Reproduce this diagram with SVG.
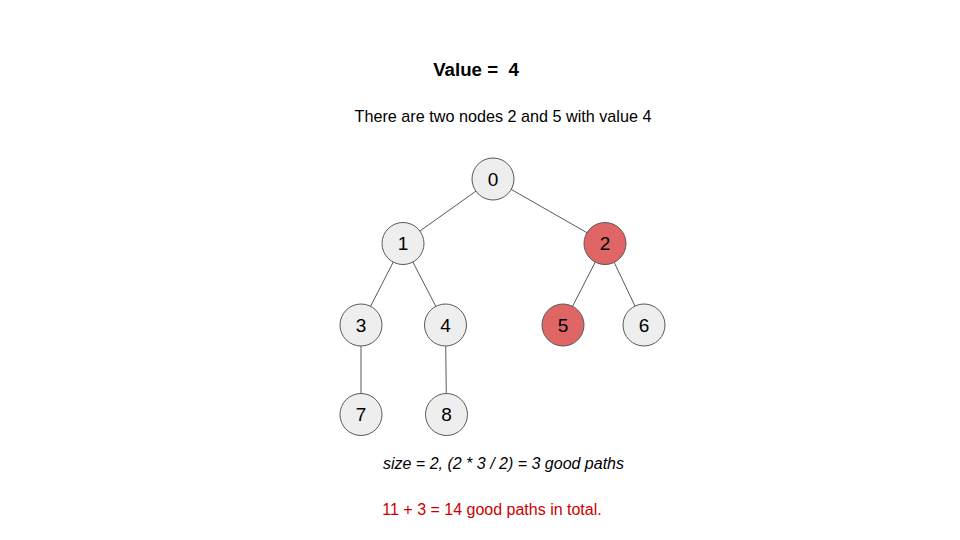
<svg xmlns="http://www.w3.org/2000/svg" width="960" height="540" viewBox="0 0 960 540">
<style>
.n circle{stroke:#595959;stroke-width:1}
.g circle{fill:#eeeeee}
.r circle{fill:#e06666}
.n text{font-family:"Liberation Sans",Arial,sans-serif;font-size:19px;fill:#000;text-anchor:middle}
.e line{stroke:#595959;stroke-width:1}
.t{font-family:"Liberation Sans",Arial,sans-serif;fill:#000}
</style>
<rect width="960" height="540" fill="#fff"/>
<text class="t" x="476" y="76" font-size="18.67" font-weight="bold" text-anchor="middle" xml:space="preserve">Value =  4</text>
<text class="t" x="503" y="122" font-size="16.2" text-anchor="middle">There are two nodes 2 and 5 with value 4</text>
<g id="edges" class="e">
<line x1="493" y1="179" x2="403" y2="243"/>
<line x1="493" y1="179" x2="605" y2="243"/>
<line x1="403" y1="243" x2="361" y2="325"/>
<line x1="403" y1="243" x2="445.5" y2="325"/>
<line x1="605" y1="243" x2="563" y2="325"/>
<line x1="605" y1="243" x2="644" y2="325"/>
<line x1="361" y1="325" x2="361" y2="415"/>
<line x1="445.5" y1="325" x2="446.5" y2="415"/>
</g>
<g id="node0" class="n g"><circle cx="493" cy="179" r="21"/><text x="493" y="185.7">0</text></g>
<g id="node1" class="n g"><circle cx="403" cy="243.5" r="21"/><text x="403" y="250.2">1</text></g>
<g id="node2" class="n r"><circle cx="605" cy="243.5" r="21"/><text x="605" y="250.2">2</text></g>
<g id="node3" class="n g"><circle cx="361" cy="325" r="21"/><text x="361" y="331.7">3</text></g>
<g id="node4" class="n g"><circle cx="445.5" cy="325" r="21"/><text x="445.5" y="331.7">4</text></g>
<g id="node5" class="n r"><circle cx="563" cy="325" r="21"/><text x="563" y="331.7">5</text></g>
<g id="node6" class="n g"><circle cx="644" cy="325" r="21"/><text x="644" y="331.7">6</text></g>
<g id="node7" class="n g"><circle cx="361" cy="414.5" r="21"/><text x="361" y="421.2">7</text></g>
<g id="node8" class="n g"><circle cx="446.5" cy="414.5" r="21"/><text x="446.5" y="421.2">8</text></g>
<text class="t" x="503.5" y="469" font-size="16" font-style="italic" text-anchor="middle">size = 2, (2 * 3 / 2) = 3 good paths</text>
<text class="t" x="492" y="515" font-size="16" text-anchor="middle" style="fill:#cc0000">11 + 3 = 14 good paths in total.</text>
</svg>
